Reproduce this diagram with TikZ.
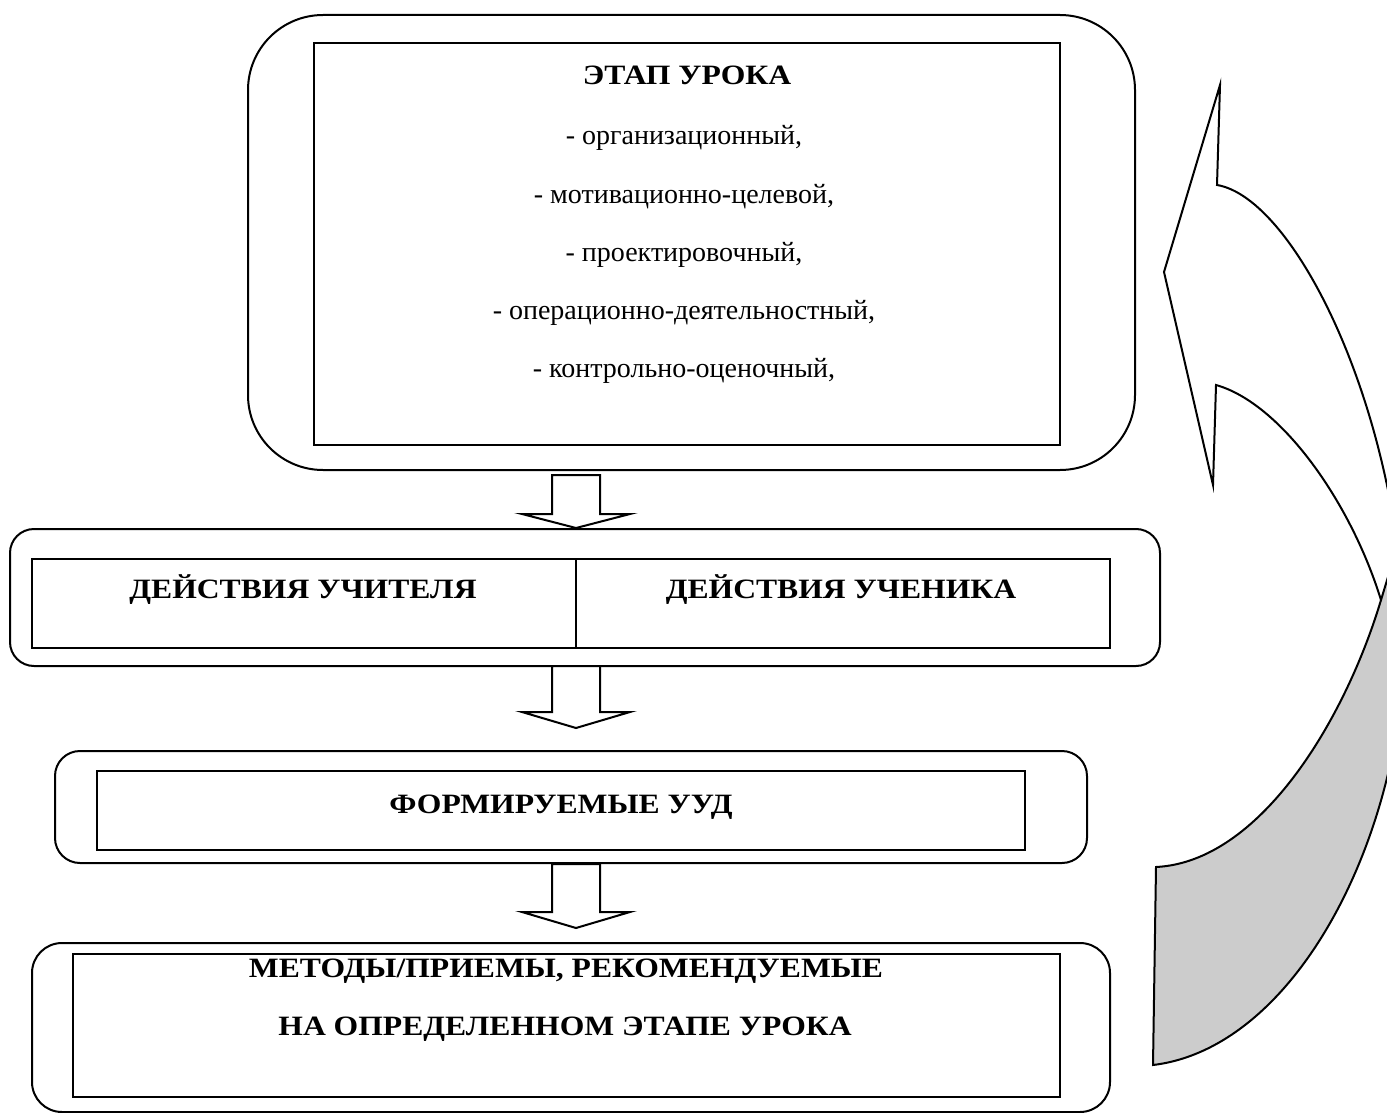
\documentclass[tikz,border=0pt]{standalone}
\usepackage{fontspec}
\setmainfont{Liberation Serif}[BoldFeatures={FakeStretch=1.13}]
\usetikzlibrary{calc}
\tikzset{
  outerbox/.style={draw, rounded corners=#1, inner sep=0pt},
  innerbox/.style={draw, inner sep=0pt},
  lbl/.style={anchor=base, inner sep=0pt, font=\fontsize{14}{16}\selectfont},
  hdr/.style={lbl, font=\fontsize{14}{16}\selectfont\bfseries},
  blk/.style={draw, fill=white, line join=miter},
}
\newcommand\blkarrow[3]{%
  \draw[blk] (552,#1) -- (552,#2) -- (522,#2) -- (576,#3) -- (630,#2) -- (600,#2) -- (600,#1) -- cycle;}
\def\crvpath{(1217,185) .. controls (1295,198) and (1400,410) .. (1405,640)
 .. controls (1402,840) and (1295,1048) .. (1153,1065)
 -- (1156,867)
 .. controls (1260,862) and (1345,720) .. (1381,600)
 .. controls (1350,500) and (1280,403) .. (1216,385)
 -- (1213,485) -- (1164,272) -- (1220,85) -- cycle}
\begin{document}
\begin{tikzpicture}[x=0.5pt,y=-0.5pt,line width=1pt]
\clip (0,0) rectangle (1387,1113);
% box 1
\node[outerbox=37.5pt, minimum width=443.5pt, minimum height=227.5pt] (b1o) at (691.5,242.5) {};
\node[innerbox, minimum width=373pt, minimum height=201pt] (b1i) at (687,244) {};
\node[hdr] (t0) at (687,85) {ЭТАП УРОКА};
\node[lbl] (t1) at (684,145) {- организационный,};
\node[lbl] (t2) at (684,203) {- мотивационно-целевой,};
\node[lbl] (t3) at (684,261) {- проектировочный,};
\node[lbl] (t4) at (684,319) {- операционно-деятельностный,};
\node[lbl] (t5) at (684,377) {- контрольно-оценочный,};
% box 2
\node[outerbox=12pt, minimum width=575pt, minimum height=68.5pt] (b2o) at (585,597.5) {};
\node[innerbox, minimum width=539pt, minimum height=44.5pt] (b2i) at (571,603.5) {};
\draw (576,0 |- b2i.north) -- (576,0 |- b2i.south);
\node[hdr] (t6) at (303,598) {ДЕЙСТВИЯ УЧИТЕЛЯ};
\node[hdr] (t7) at (841,598) {ДЕЙСТВИЯ УЧЕНИКА};
% box 3
\node[outerbox=12.5pt, minimum width=516pt, minimum height=56pt] (b3o) at (571,807) {};
\node[innerbox, minimum width=464pt, minimum height=39.5pt] (b3i) at (561,810.5) {};
\node[hdr] (t8) at (561,813) {ФОРМИРУЕМЫЕ УУД};
% box 4
\node[outerbox=15pt, minimum width=539pt, minimum height=84.5pt] (b4o) at (571,1027.5) {};
\node[innerbox, minimum width=493.5pt, minimum height=71.5pt] (b4i) at (566.5,1025.5) {};
\node[hdr] (t9) at (566,977) {МЕТОДЫ/ПРИЕМЫ, РЕКОМЕНДУЕМЫЕ};
\node[hdr] (t10) at (565,1035) {НА ОПРЕДЕЛЕННОМ ЭТАПЕ УРОКА};
% block arrows
\blkarrow{475}{514}{528}
\blkarrow{666}{712}{728}
\blkarrow{864}{912}{928}
% curved arrow
\fill[white] \crvpath;
\begin{scope}
\clip \crvpath;
\fill[black!20] (1156,867) .. controls (1260,862) and (1345,720) .. (1381,600) -- (1391,567) -- (1460,567) -- (1460,1120) -- (1100,1120) -- cycle;
\end{scope}
\draw[line join=miter] \crvpath;
\draw (1381,600) -- (1391,567);
\end{tikzpicture}
\end{document}
